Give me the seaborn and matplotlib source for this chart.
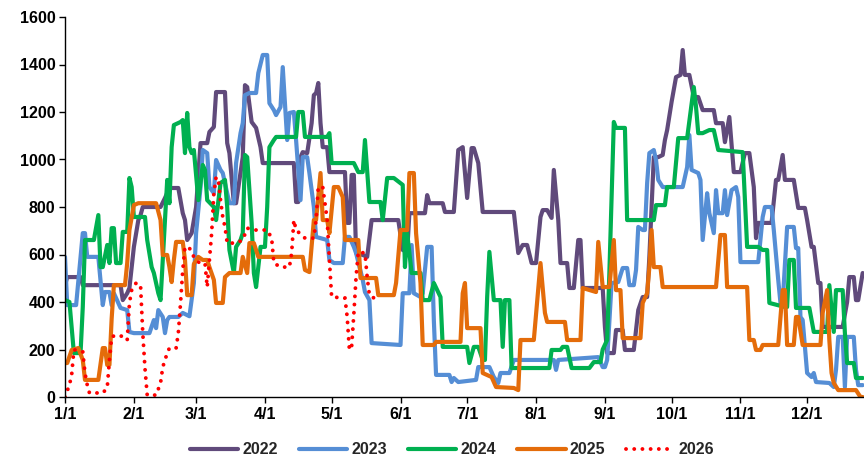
import pandas as pd
import matplotlib
matplotlib.use("Agg")
import matplotlib.pyplot as plt
import seaborn as sns

# Day of year (0 = 1 Jan) and value
days_2022 = [0, 1, 7, 8, 25, 26, 28, 29, 31, 33,
             34, 35, 43, 45, 47, 51, 53, 54, 55, 57,
             59, 61, 64, 65, 67, 68, 72, 73, 74, 76,
             77, 80, 81, 82, 84, 86, 88, 89, 103, 104,
             105, 106, 107, 109, 111, 112, 113, 114, 115, 116,
             118, 119, 126, 127, 128, 129, 130, 131, 134, 136,
             138, 150, 152, 154, 155, 162, 163, 164, 170, 171,
             175, 177, 179, 181, 183, 184, 186, 188, 202, 204,
             206, 208, 210, 212, 214, 215, 217, 219, 220, 222,
             223, 226, 227, 229, 231, 232, 233, 242, 243, 244,
             247, 248, 251, 252, 256, 258, 260, 262, 263, 265,
             267, 269, 270, 271, 273, 275, 277, 278, 279, 281,
             283, 285, 287, 292, 293, 296, 297, 299, 301, 304,
             306, 308, 310, 311, 312, 318, 320, 321, 323, 324,
             328, 330, 333, 334, 336, 337, 339, 340, 341, 350,
             352, 353, 355, 356, 357, 359]
vals_2022 = [470, 505, 505, 471, 471, 408, 437, 459, 632, 745,
             766, 800, 800, 838, 880, 880, 774, 745, 661, 690,
             800, 1069, 1069, 1116, 1137, 1284, 1284, 1069, 1027, 816,
             816, 1010, 1313, 1305, 1158, 1133, 1052, 985, 985, 821,
             821, 1010, 1031, 1027, 1153, 1271, 1280, 1322, 1153, 1052,
             1052, 947, 947, 733, 733, 935, 935, 606, 598, 590,
             745, 745, 619, 611, 774, 774, 850, 816, 816, 779,
             779, 1040, 1052, 838, 1048, 1048, 985, 779, 779, 606,
             640, 640, 564, 564, 758, 787, 787, 754, 956, 745,
             564, 564, 459, 459, 661, 661, 459, 459, 295, 185,
             185, 282, 282, 198, 198, 366, 421, 421, 590, 1010,
             1010, 1019, 1082, 1124, 1242, 1347, 1356, 1461, 1356, 1356,
             1263, 1263, 1208, 1208, 1153, 1153, 1073, 1179, 947, 947,
             1027, 1027, 884, 669, 733, 733, 914, 914, 1019, 914,
             914, 796, 796, 745, 632, 632, 480, 480, 295, 295,
             400, 505, 505, 408, 408, 522]

days_2023 = [0, 1, 5, 8, 9, 10, 15, 17, 18, 20,
             21, 22, 25, 28, 29, 31, 38, 40, 41, 42,
             44, 45, 46, 47, 51, 53, 56, 58, 59, 61,
             62, 64, 65, 67, 68, 70, 71, 73, 74, 76,
             77, 79, 80, 81, 83, 86, 87, 89, 91, 92,
             94, 95, 97, 98, 100, 101, 103, 104, 106, 107,
             109, 110, 112, 113, 118, 119, 121, 125, 126, 128,
             130, 131, 134, 135, 137, 138, 151, 152, 155, 156,
             157, 160, 161, 163, 165, 166, 167, 173, 174, 175,
             177, 185, 186, 191, 193, 195, 196, 200, 202, 220,
             221, 222, 240, 242, 243, 244, 246, 249, 251, 253,
             254, 256, 257, 258, 260, 261, 262, 263, 265, 266,
             267, 269, 278, 280, 281, 282, 285, 286, 287, 289,
             290, 292, 293, 294, 296, 297, 298, 300, 302, 303,
             304, 312, 314, 315, 318, 319, 321, 322, 323, 325,
             328, 329, 330, 331, 332, 334, 336, 337, 338, 344,
             346, 347, 348, 350, 351, 352, 355, 356, 357, 359]
vals_2023 = [590, 387, 387, 690, 690, 590, 590, 387, 442, 442,
             387, 437, 375, 366, 274, 269, 269, 324, 290, 366,
             337, 269, 324, 337, 337, 354, 340, 480, 690, 884,
             1040, 1027, 884, 858, 998, 956, 943, 858, 816, 816,
             985, 1111, 1153, 1271, 1280, 1280, 1364, 1440, 1440, 1237,
             1208, 1187, 1221, 1389, 1082, 1196, 1200, 1082, 829, 1010,
             1010, 943, 800, 674, 661, 577, 564, 564, 674, 674,
             632, 606, 493, 442, 408, 227, 219, 437, 437, 640,
             437, 421, 437, 632, 632, 324, 93, 93, 63, 80,
             63, 72, 126, 126, 84, 59, 101, 101, 156, 156,
             114, 156, 168, 126, 126, 156, 480, 484, 543, 543,
             471, 471, 535, 716, 703, 703, 901, 1027, 1040, 998,
             914, 884, 884, 968, 1103, 956, 943, 914, 661, 858,
             774, 690, 871, 774, 774, 871, 766, 871, 884, 842,
             568, 568, 758, 800, 800, 703, 493, 396, 396, 716,
             716, 627, 627, 337, 324, 101, 84, 101, 63, 59,
             42, 114, 253, 253, 42, 253, 253, 114, 50, 50]

days_2024 = [0, 2, 4, 7, 8, 9, 13, 15, 16, 17,
             19, 20, 21, 22, 23, 25, 26, 28, 29, 30,
             31, 36, 37, 39, 40, 42, 43, 44, 46, 47,
             48, 49, 52, 53, 54, 55, 56, 57, 58, 60,
             62, 63, 64, 67, 68, 70, 72, 73, 74, 76,
             77, 79, 80, 81, 82, 84, 85, 86, 88, 90,
             91, 92, 94, 95, 104, 105, 107, 108, 118, 119,
             120, 130, 132, 134, 135, 137, 142, 143, 145, 148,
             152, 153, 154, 156, 160, 161, 164, 166, 169, 170,
             181, 182, 184, 186, 188, 189, 190, 191, 193, 196,
             197, 198, 200, 201, 218, 219, 223, 224, 226, 228,
             236, 238, 241, 242, 244, 245, 247, 248, 252, 253,
             265, 266, 270, 271, 274, 276, 280, 283, 284, 285,
             287, 290, 292, 294, 305, 307, 312, 314, 316, 317,
             324, 325, 326, 328, 329, 335, 337, 343, 344, 346,
             347, 350, 351, 352, 355, 356, 359]
vals_2024 = [408, 400, 185, 185, 379, 661, 661, 766, 547, 547,
             640, 564, 711, 711, 564, 564, 695, 695, 922, 884,
             758, 758, 661, 547, 522, 437, 408, 577, 914, 816,
             1052, 1145, 1158, 1166, 1027, 1196, 1052, 1027, 1040, 829,
             977, 956, 829, 800, 745, 901, 914, 800, 619, 522,
             632, 661, 690, 1019, 1010, 733, 522, 463, 632, 632,
             800, 1052, 1082, 1095, 1095, 1200, 1200, 1095, 1095, 1111,
             985, 985, 947, 947, 1082, 821, 821, 745, 922, 922,
             893, 547, 690, 522, 522, 408, 408, 480, 421, 211,
             211, 143, 211, 211, 156, 156, 421, 611, 408, 408,
             211, 408, 408, 122, 122, 198, 198, 211, 211, 122,
             122, 147, 147, 200, 240, 522, 1158, 1133, 1133, 745,
             745, 808, 808, 884, 884, 1090, 1090, 1305, 1221, 1111,
             1111, 1124, 1124, 1040, 1031, 632, 632, 619, 619, 396,
             379, 379, 577, 577, 375, 375, 274, 274, 471, 274,
             450, 450, 269, 143, 143, 80, 80]

days_2025 = [0, 1, 3, 6, 8, 9, 15, 17, 18, 19,
             20, 21, 22, 27, 28, 29, 31, 33, 41, 43,
             44, 46, 47, 48, 49, 50, 53, 54, 55, 57,
             58, 60, 62, 64, 65, 67, 68, 71, 72, 74,
             79, 80, 82, 83, 85, 87, 107, 108, 110, 112,
             113, 115, 116, 118, 119, 121, 123, 125, 126, 132,
             133, 140, 141, 148, 149, 151, 154, 155, 157, 158,
             160, 161, 166, 167, 178, 179, 180, 181, 187, 188,
             192, 194, 202, 204, 205, 211, 214, 216, 217, 225,
             226, 232, 233, 239, 240, 242, 245, 247, 248, 250,
             251, 259, 260, 262, 263, 264, 265, 268, 269, 293,
             295, 297, 298, 307, 308, 310, 311, 313, 314, 321,
             323, 324, 325, 328, 329, 330, 332, 340, 341, 343,
             344, 345, 346, 348, 356, 358, 359]
vals_2025 = [143, 143, 198, 206, 156, 72, 72, 206, 206, 135,
             135, 330, 471, 471, 564, 703, 808, 816, 816, 745,
             598, 598, 547, 484, 577, 653, 653, 577, 429, 429,
             560, 590, 577, 577, 547, 493, 396, 396, 505, 522,
             522, 590, 522, 648, 648, 590, 590, 535, 526, 745,
             745, 943, 745, 745, 690, 884, 884, 842, 661, 661,
             501, 501, 429, 429, 480, 703, 703, 943, 943, 690,
             480, 219, 219, 232, 232, 437, 480, 290, 290, 101,
             84, 42, 38, 29, 240, 240, 564, 354, 316, 316,
             240, 240, 459, 442, 653, 463, 463, 661, 450, 450,
             248, 248, 396, 437, 547, 703, 547, 547, 463, 463,
             682, 682, 463, 463, 240, 240, 198, 198, 219, 219,
             450, 450, 219, 219, 337, 337, 219, 219, 354, 450,
             240, 101, 59, 29, 29, 0, 0]

days_2026 = [0, 2, 3, 4, 6, 8, 9, 10, 11, 17,
             19, 20, 21, 23, 27, 28, 29, 30, 32, 34,
             35, 36, 37, 41, 43, 44, 46, 47, 50, 51,
             52, 53, 54, 56, 58, 60, 63, 64, 66, 67,
             68, 69, 70, 71, 72, 73, 77, 80, 82, 85,
             91, 93, 94, 97, 101, 102, 103, 104, 108, 112,
             113, 114, 116, 117, 118, 119, 120, 126, 127, 128,
             129, 130, 131, 132, 135, 136, 137, 139]
vals_2026 = [0, 51, 93, 198, 198, 190, 101, 51, 17, 17,
             38, 156, 253, 261, 253, 240, 396, 450, 480, 471,
             269, 120, 8, 8, 59, 126, 185, 206, 206, 269,
             396, 535, 632, 627, 590, 568, 564, 463, 690, 858,
             926, 914, 829, 758, 716, 648, 648, 661, 711, 703,
             703, 669, 564, 547, 547, 606, 745, 703, 669, 669,
             745, 884, 884, 816, 745, 577, 421, 417, 337, 198,
             211, 350, 505, 611, 606, 505, 429, 417]

years = ["2022", "2023", "2024", "2025", "2026"]
colors = ["#604A7B", "#558ED5", "#00B050", "#E46C0A", "#FF0000"]
month_starts = [0, 31, 59, 90, 120, 151, 181, 212, 243, 273, 304, 334]
month_labels = [f"{m}/1" for m in range(1, 13)]

series = {
    "2022": (days_2022, vals_2022),
    "2023": (days_2023, vals_2023),
    "2024": (days_2024, vals_2024),
    "2025": (days_2025, vals_2025),
    "2026": (days_2026, vals_2026),
}

sns.set_theme(style="ticks")
plt.rcParams["font.family"] = ["Liberation Sans", "DejaVu Sans"]
plt.rcParams["font.weight"] = "bold"

fig = plt.figure(figsize=(8.64, 4.57), dpi=100)
ax = fig.add_axes([65 / 864, 60 / 457, 799 / 864, 380 / 457])

for year, color in zip(years, colors):
    d, v = series[year]
    df = pd.DataFrame({"day": d, "value": v})
    if year == "2026":
        sns.lineplot(data=df, x="day", y="value", ax=ax, color=color,
                     estimator=None, sort=False, label=year,
                     linewidth=2.8, linestyle=(0, (0.01, 2.1)),
                     dash_capstyle="round")
    else:
        sns.lineplot(data=df, x="day", y="value", ax=ax, color=color,
                     estimator=None, sort=False, label=year,
                     linewidth=3.0)

ax.set_xlim(0, 359.6)
ax.set_ylim(0, 1600)
ax.set_yticks(range(0, 1601, 200))
ax.set_xticks(month_starts)
ax.set_xticklabels(month_labels)
ax.set_xlabel("")
ax.set_ylabel("")

sns.despine(ax=ax)
for side in ["left", "bottom"]:
    ax.spines[side].set_color("black")
    ax.spines[side].set_linewidth(1.0)
ax.tick_params(axis="both", direction="out", length=4, width=1,
               color="black", labelcolor="black", labelsize=11.5)
ax.tick_params(axis="x", pad=3)
ax.tick_params(axis="y", pad=3)
for lbl in ax.get_xticklabels() + ax.get_yticklabels():
    lbl.set_fontweight("bold")

handles, labels = ax.get_legend_handles_labels()
ax.get_legend().remove()
fig.legend(handles, labels, loc="center", bbox_to_anchor=(452 / 864, 1 - 450 / 457),
           ncol=5, frameon=False, handlelength=3.05, handletextpad=0.25,
           columnspacing=1.3, prop={"weight": "bold", "size": 11.5})

fig.savefig("out.png", dpi=100)
